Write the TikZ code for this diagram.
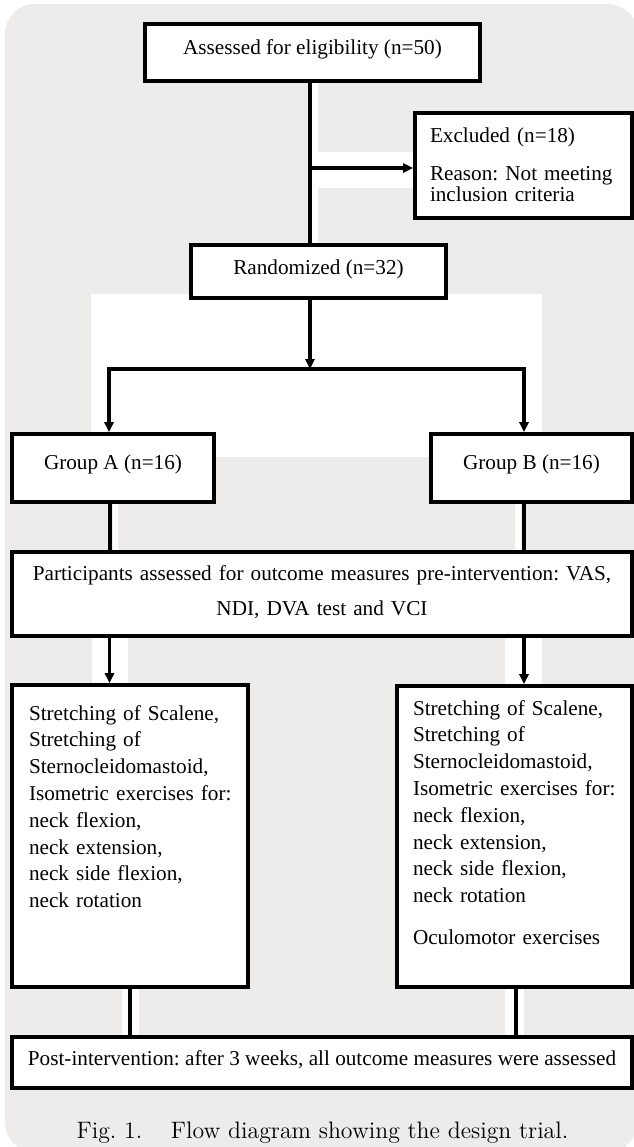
\documentclass[tikz,border=0pt]{standalone}
\usepackage{fontspec}
\newfontfamily\timesfont{Liberation Serif}
\usetikzlibrary{arrows.meta}
\definecolor{bggray}{RGB}{237,236,234}

\begin{document}
\begin{tikzpicture}[%
    x=0.5pt, y=-0.5pt,
    >={Triangle[length=5pt,width=4.5pt]},
    box/.style={draw, line width=1.8pt, fill=white, inner ysep=0pt,
        font=\timesfont\frenchspacing\fontsize{10.6}{13.4}\selectfont},
    link/.style={line width=1.8pt}
    ]

    \useasboundingbox (0,0) rectangle (633,1147);
    \fill[bggray, rounded corners=15pt] (5,4) rectangle (638,1152);
    \fill[white] (91,294) rectangle (542,457);
    \foreach \xa/\ya/\xb/\yb in {312/81/318/245, 311/152/415/188, 113/502/118/552,
        515/502/521/552, 92/636/128/685, 505/636/542/686, 122/987/139/1037, 505/987/524/1037}
        \fill[white] (\xa,\ya) rectangle (\xb,\yb);

    \node[box, minimum width=167.5pt, text height=15pt, text depth=13.5pt] (assess) at (312.5,52.5) {Assessed for eligibility (n=50)};
    \node[box, text width=93.5pt, inner xsep=7.5pt, align=left, text height=14.5pt, text depth=38pt,
        font=\timesfont\frenchspacing\fontsize{10.6}{10.8}\selectfont] (excl) at (523.5,165.5)
        {Excluded (n=18)\\[8.2pt] Reason: Not meeting\\ inclusion criteria};
    \node[box, minimum width=127.5pt, text height=14.5pt, text depth=12pt] (rand) at (318.5,271.5) {Randomized (n=32)};
    \node[box, minimum width=101pt, text height=17.5pt, text depth=16.5pt] (grpA) at (113,468) {Group A (n=16)};
    \node[box, minimum width=100.5pt, text height=17.5pt, text depth=16.5pt] (grpB) at (531.5,468) {Group B (n=16)};
    \node[box, text width=300pt, inner xsep=5pt, align=center, text height=14pt, text depth=28pt,
        font=\timesfont\frenchspacing\fontsize{10.6}{17.5}\selectfont] (part) at (322,594)
        {Participants assessed for outcome measures pre-intervention: VAS,\\ NDI, DVA test and VCI};
    \node[box, text width=101pt, inner xsep=8.5pt, align=left, text height=17.5pt, text depth=133.5pt] (treatA) at (130,836)
        {Stretching of Scalene,\\ Stretching of\\ Sternocleidomastoid,\\ \mbox{Isometric exercises for:}\\
         neck flexion,\\ neck extension,\\ neck side flexion,\\ neck rotation};
    \node[box, text width=101.5pt, inner xsep=8pt, align=left, text height=14.5pt, text depth=136pt] (treatB) at (514.5,836.5)
        {Stretching of Scalene,\\ Stretching of\\ Sternocleidomastoid,\\ \mbox{Isometric exercises for:}\\
         neck flexion,\\ neck extension,\\ neck side flexion,\\ neck rotation\\[7.6pt] Oculomotor exercises};
    \node[box, minimum width=310pt, text height=14pt, text depth=11.5pt] (post) at (322,1062.5)
        {Post-intervention: after 3 weeks, all outcome measures were assessed};
    \node[anchor=base, font=\fontsize{11.9}{14}\selectfont] (caption) at (322.5,1138)
        {Fig.~1.\hspace{1.2em}Flow diagram showing the design trial.};

    \coordinate (split) at (310,168);
    \coordinate (fork) at (310,369);

    \draw[link] (assess.south -| split) -- (rand.north -| split);
    \draw[link,->] (split) -- (split -| excl.west);
    \draw[link,->] (rand.south -| fork) -- (fork);
    \draw[link,->] (fork) -| ([xshift=-2pt]grpA.north);
    \draw[link,->] (fork) -| ([xshift=-3.75pt]grpB.north);
    \draw[link] ([xshift=-1.5pt]grpA.south) -- ([xshift=-1.5pt]grpA.south |- part.north);
    \draw[link] ([xshift=-3.75pt]grpB.south) -- ([xshift=-3.75pt]grpB.south |- part.north);
    \draw[link,->] ([xshift=-10.25pt]treatA.north |- part.south) -- ([xshift=-10.25pt]treatA.north);
    \draw[link,->] ([xshift=4.75pt]treatB.north |- part.south) -- ([xshift=4.75pt]treatB.north);
    \draw[link] (treatA.south) -- (treatA.south |- post.north);
    \draw[link] ([xshift=0.75pt]treatB.south) -- ([xshift=0.75pt]treatB.south |- post.north);

    \end{tikzpicture}
\end{document}
